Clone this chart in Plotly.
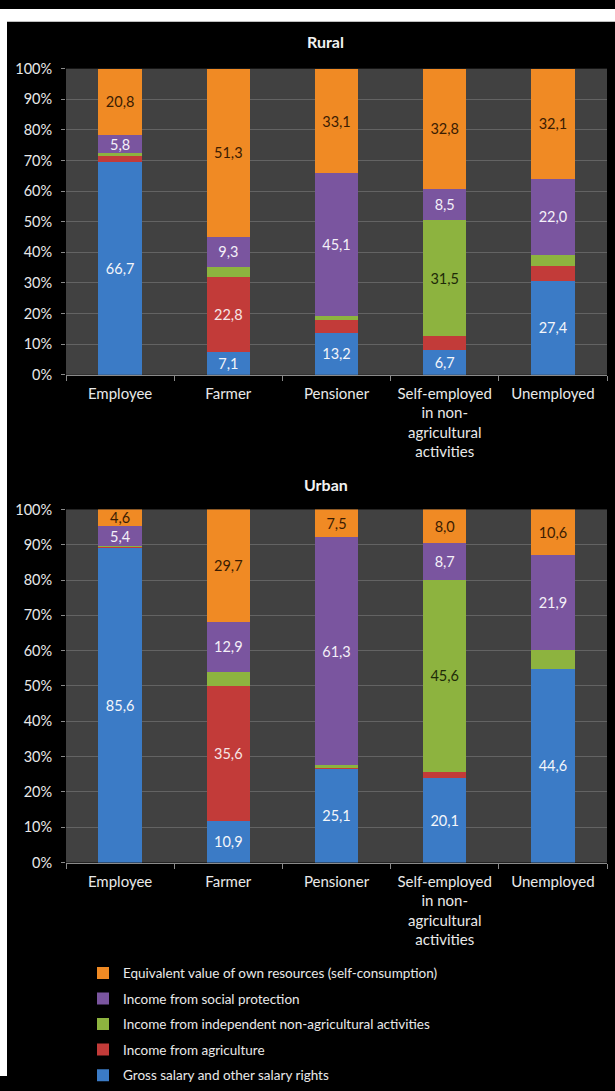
import plotly.graph_objects as go

W, H = 615, 1091

categories = [
    "Employee",
    "Farmer",
    "Pensioner",
    "Self-employed<br>in non-<br>agricultural<br>activities",
    "Unemployed",
]

series_names = [
    "Gross salary and other salary rights",
    "Income from agriculture",
    "Income from independent non-agricultural activities",
    "Income from social protection",
    "Equivalent value of own resources (self-consumption)",
]

# Rural households, by status of the household head
rural_salary = [66.7, 7.1, 13.2, 6.7, 27.4]
rural_agriculture = [2.2, 22.8, 4.1, 3.8, 4.3]
rural_independent = [0.6, 3.0, 1.2, 31.5, 3.3]
rural_social = [5.8, 9.3, 45.1, 8.5, 22.0]
rural_own = [20.8, 51.3, 33.1, 32.8, 32.1]

# Urban households, by status of the household head
urban_salary = [85.6, 10.9, 25.1, 20.1, 44.6]
urban_agriculture = [0.2, 35.6, 0.2, 1.4, 0.1]
urban_independent = [0.2, 3.7, 0.8, 45.6, 4.3]
urban_social = [5.4, 12.9, 61.3, 8.7, 21.9]
urban_own = [4.6, 29.7, 7.5, 8.0, 10.6]

y_ticks = [0, 10, 20, 30, 40, 50, 60, 70, 80, 90, 100]

colors = ["#3b7bc6", "#c23b39", "#8db33f", "#7a559f", "#f08a24"]
label_colors = ["#f4f6fa", "#f6e6e6", "#1e2a08", "#f4f0f8", "#3a1c02"]

FONT = "Lato"
TXT = "#e9e9e9"


def px(x):
    return x / W


def py(y):
    return 1 - y / H


def fmt(v):
    # decimal comma, only the larger segments carry a label
    return f"{v:.1f}".replace(".", ",") if v >= 4.5 else ""


fig = go.Figure()

panels = [
    ("x", "y", [rural_salary, rural_agriculture, rural_independent, rural_social, rural_own], True),
    ("x2", "y2", [urban_salary, urban_agriculture, urban_independent, urban_social, urban_own], False),
]

n = len(series_names)
for xa, ya, values, show in panels:
    for i, (name, vals) in enumerate(zip(series_names, values)):
        fig.add_trace(
            go.Bar(
                x=categories,
                y=vals,
                name=name,
                xaxis=xa,
                yaxis=ya,
                marker=dict(color=colors[i], line=dict(width=0)),
                text=[fmt(v) for v in vals],
                textposition="inside",
                insidetextanchor="middle",
                textangle=0,
                textfont=dict(family=FONT, size=14.5, color=label_colors[i]),
                legendgroup=name,
                legendrank=n - i,
                showlegend=show,
                hoverinfo="skip",
            )
        )

x_dom = [px(66), px(607)]
axis_common = dict(
    showgrid=False,
    showline=True,
    linecolor="#8a8a8a",
    linewidth=1,
    ticks="outside",
    tickson="boundaries",
    ticklen=5,
    tickcolor="#8a8a8a",
    ticklabelstandoff=5,
    tickfont=dict(family=FONT, size=15, color=TXT),
    fixedrange=True,
)
yaxis_common = dict(
    range=[0, 100],
    tickvals=y_ticks,
    ticktext=[f"{t}%" for t in y_ticks],
    showgrid=True,
    gridcolor="#636363",
    gridwidth=1,
    zeroline=False,
    showline=False,
    ticks="outside",
    ticklen=4,
    tickcolor="#8a8a8a",
    ticklabelstandoff=6,
    tickfont=dict(family=FONT, size=14.5, color=TXT),
    fixedrange=True,
)

fig.update_layout(
    width=W,
    height=H,
    margin=dict(l=0, r=0, t=0, b=0),
    paper_bgcolor="#000000",
    plot_bgcolor="#414141",
    barmode="stack",
    barnorm="percent",
    bargap=0.6,
    uniformtext=dict(minsize=12, mode="show"),
    xaxis=dict(domain=x_dom, anchor="y", **axis_common),
    yaxis=dict(domain=[py(374), py(61)], anchor="x", **yaxis_common),
    xaxis2=dict(domain=x_dom, anchor="y2", **axis_common),
    yaxis2=dict(domain=[py(872.7), py(511.7)], anchor="x2", **yaxis_common),
    legend=dict(
        x=px(83),
        y=py(970),
        xanchor="left",
        yanchor="top",
        traceorder="grouped",
        tracegroupgap=5,
        itemwidth=30,
        bgcolor="rgba(0,0,0,0)",
        font=dict(family=FONT, size=13.5, color=TXT),
    ),
    showlegend=True,
    annotations=[
        dict(text="<b>Rural</b>", x=px(326), y=py(33), xref="paper", yref="paper",
             yanchor="middle", showarrow=False,
             font=dict(family=FONT, size=16, color="#f2f2f2")),
        dict(text="<b>Urban</b>", x=px(326), y=py(486), xref="paper", yref="paper",
             yanchor="middle", showarrow=False,
             font=dict(family=FONT, size=16, color="#f2f2f2")),
    ],
    shapes=[
        # white page strips around the dark chart panels
        dict(type="rect", xref="paper", yref="paper", x0=0, x1=px(7), y0=0, y1=1,
             fillcolor="#ffffff", line=dict(width=0), layer="above"),
        dict(type="rect", xref="paper", yref="paper", x0=0, x1=1, y0=py(13), y1=1,
             fillcolor="#ffffff", line=dict(width=0), layer="above"),
    ],
)

fig.write_html("out.html")
